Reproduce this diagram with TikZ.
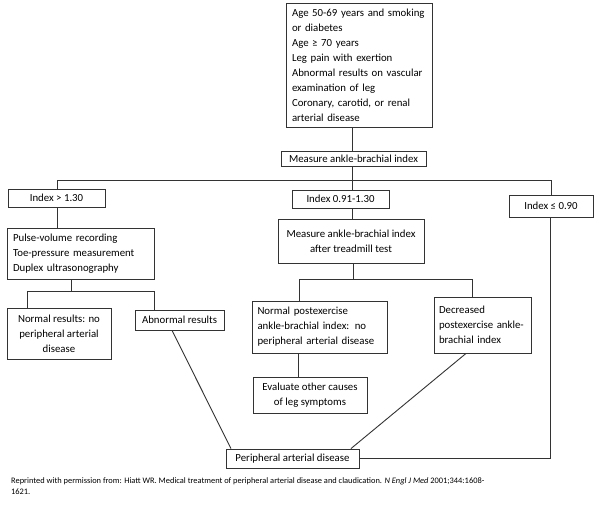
\documentclass[tikz,border=0pt]{standalone}
\usepackage{fontspec}
\setmainfont{Carlito}
\begin{document}
\begin{tikzpicture}[x=1pt,y=-1pt,
  box/.style={draw=black!80, line width=0.9pt, inner sep=0pt, font=\fontsize{10.8}{15}\selectfont, text=black},
  lbox/.style={box, align=left},
  cbox/.style={box, align=center},
  conn/.style={draw=black!80, line width=0.9pt}]
\useasboundingbox (0,0) rectangle (600,507);
\fill[white] (0,0) rectangle (600,507);

\node[lbox, minimum width=146pt, minimum height=124pt, text width=134pt] (top) at (359,65)
 {Age 50-69 years and smoking\\or diabetes\\Age ≥ 70 years\\Leg pain with exertion\\Abnormal results on vascular\\examination of leg\\Coronary, carotid, or renal\\arterial disease};
\node[cbox, minimum width=145pt, minimum height=15pt] (measure) at (353.5,158.5) {Measure ankle-brachial index};
\node[cbox, minimum width=97pt, minimum height=18pt] (idx1) at (56.5,198) {Index > 1.30};
\node[cbox, minimum width=97pt, minimum height=18pt] (idx2) at (340.5,199) {Index 0.91-1.30};
\node[cbox, minimum width=84pt, minimum height=22pt] (idx3) at (551,206) {Index ≤ 0.90};
\node[lbox, minimum width=147pt, minimum height=51pt, text width=135pt] (pulse) at (80.5,253.5)
 {Pulse-volume recording\\Toe-pressure measurement\\Duplex ultrasonography};
\node[cbox, minimum width=104pt, minimum height=51pt] (normal) at (59,333.5) {Normal results: no\\peripheral arterial\\disease};
\node[cbox, minimum width=89pt, minimum height=20pt] (abn) at (179.5,320) {Abnormal results};
\node[cbox, minimum width=146pt, minimum height=44pt] (tread) at (351,241) {Measure ankle-brachial index\\after treadmill test};
\node[lbox, minimum width=135pt, minimum height=52pt, text width=125pt] (normpost) at (320,327)
 {Normal postexercise\\ankle-brachial index: no\\peripheral arterial disease};
\node[lbox, minimum width=97pt, minimum height=56pt, text width=87pt, yshift=2.5pt] (decr) at (482.5,327.5)
 {Decreased\\postexercise ankle-\\brachial index};
\node[cbox, minimum width=114pt, minimum height=36pt] (eval) at (310,395) {Evaluate other causes\\of leg symptoms};
\node[cbox, minimum width=133pt, minimum height=19pt] (pad) at (292.5,458.5) {Peripheral arterial disease};

\node[anchor=north west, inner sep=0pt, align=left, font=\fontsize{8.4}{11}\selectfont, text=black] (cap) at (11,477.5)
 {Reprinted with permission from: Hiatt WR. Medical treatment of peripheral arterial disease and claudication. \emph{N Engl J Med} 2001;344:1608-\\1621.};

\coordinate (bL) at (57,180);
\coordinate (bM) at (352,180);
\coordinate (bR) at (551,180);
\draw[conn] (top.south -| bM) -- (measure.north -| bM);
\draw[conn] (measure.south -| bM) -- (bM);
\draw[conn] (idx1.north -| bL) |- (bR) -- (idx3.north -| bR);
\draw[conn] (bM) -- (idx2.north -| bM);
\draw[conn] (idx1.south -| bL) -- (pulse.north -| bL);

\coordinate (b2) at (71,291);
\coordinate (b2L) at (27,291);
\coordinate (b2R) at (154,291);
\draw[conn] (pulse.south -| b2) -- (b2);
\draw[conn] (normal.north -| b2L) |- (b2R) -- (abn.north -| b2R);

\draw[conn] (idx2.south -| bM) -- (tread.north -| bM);
\coordinate (b3) at (353,279);
\coordinate (b3L) at (299,279);
\coordinate (b3R) at (472,279);
\draw[conn] (tread.south -| b3) -- (b3);
\draw[conn] (normpost.north -| b3L) |- (b3R) -- (decr.north -| b3R);

\coordinate (ev) at (298,0);
\draw[conn] (normpost.south -| ev) -- (eval.north -| ev);

\coordinate (a1) at (172,0);
\coordinate (a2) at (231,0);
\draw[conn] (abn.south -| a1) -- (pad.north -| a2);
\coordinate (d1) at (466,0);
\coordinate (d2) at (351,0);
\draw[conn] (decr.south -| d1) -- (pad.north -| d2);
\coordinate (r) at (550,0);
\draw[conn] (idx3.south -| r) |- (pad.east);
\end{tikzpicture}
\end{document}
